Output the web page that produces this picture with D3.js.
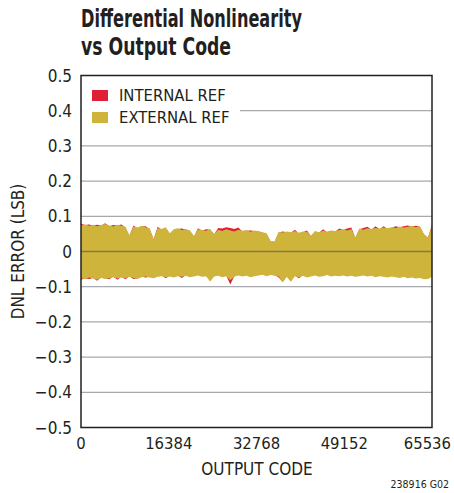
<!DOCTYPE html>
<html><head><meta charset="utf-8">
<script src="https://cdn.jsdelivr.net/npm/d3@7/dist/d3.min.js"></script>
<style>
html,body{margin:0;padding:0;background:#fff;}
svg{display:block;}
text{font-family:"Liberation Sans Narrow","DejaVu Sans Condensed","Roboto Condensed",sans-serif;fill:#231f20;}
</style></head>
<body><svg id="chart" width="454" height="493"></svg>
<script>
// ---- data (binned envelope, LSB) ----
const codeMax = 65536;
const xTicks = [0, 16384, 32768, 49152, 65536];
const yTicks = [0.5, 0.4, 0.3, 0.2, 0.1, 0, -0.1, -0.2, -0.3, -0.4, -0.5];
const seriesNames = ["INTERNAL REF", "EXTERNAL REF"];
const extUpper = [.074,.077,.073,.076,.072,.075,.078,.074,.071,.076,.073,.070,
  .046,.071,.068,.073,.069,.066,
  .036,.067,.064,.069,.052,
  .063,.066,.061,.064,.060,.044,.063,.061,
  .059,.064,.050,.062,.058,.063,.060,.057,.062,.059,.061,.056,.060,.058,
  .055,.052,.030,.029,
  .056,.054,.057,.055,.058,.053,.057,.056,.045,.058,.055,.059,.057,.060,.058,.061,
  .063,.060,.064,.040,.065,.062,.066,.064,.067,.065,.068,.066,.069,.067,.071,.068,.070,.073,.069,.072,.050,.040,.074];
const intUpper = [.079,.075,.077,.074,.076,.073,.080,.072,.075,.074,.077,.068,
  .044,.074,.066,.071,.072,.064,
  .034,.070,.062,.067,.050,
  .061,.064,.065,.062,.058,.042,.066,.059,
  .063,.062,.048,.067,.065,.069,.067,.064,.068,.057,.059,.060,.058,.056,
  .053,.050,.028,.027,
  .054,.057,.055,.053,.062,.051,.055,.060,.043,.056,.053,.063,.055,.058,.056,.065,
  .061,.065,.068,.038,.063,.067,.070,.062,.072,.063,.072,.064,.067,.072,.069,.072,.074,.071,.073,.070,.048,.038,.077];
const extLower = [-.076,-.079,-.074,-.077,-.080,-.075,-.078,-.076,-.073,-.077,-.074,-.076,
  -.072,-.075,-.078,-.073,-.071,-.074,
  -.076,-.072,-.070,-.073,-.071,
  -.074,-.070,-.072,-.069,-.073,-.071,-.068,-.072,
  -.070,-.085,-.071,-.069,-.073,-.070,-.082,-.072,-.068,-.071,-.069,-.073,-.070,-.068,
  -.066,-.070,-.067,-.069,
  -.071,-.088,-.072,-.086,-.070,-.073,-.069,-.074,-.071,-.068,-.072,-.070,-.067,-.071,-.069,-.070,
  -.068,-.071,-.069,-.072,-.070,-.068,-.071,-.069,-.073,-.070,-.072,-.074,-.071,-.073,-.075,-.072,-.076,-.074,-.077,-.075,-.079,-.078,-.072];
const intLower = [-.080,-.077,-.078,-.075,-.083,-.073,-.076,-.079,-.071,-.080,-.072,-.079,
  -.070,-.078,-.076,-.071,-.074,-.072,
  -.074,-.070,-.068,-.076,-.069,
  -.072,-.068,-.075,-.067,-.071,-.069,-.066,-.070,
  -.068,-.083,-.069,-.067,-.071,-.068,-.094,-.070,-.066,-.069,-.067,-.071,-.068,-.066,
  -.064,-.068,-.065,-.067,
  -.074,-.086,-.070,-.084,-.068,-.076,-.067,-.072,-.069,-.066,-.070,-.068,-.065,-.069,-.067,-.068,
  -.066,-.069,-.067,-.070,-.068,-.066,-.069,-.067,-.071,-.068,-.070,-.072,-.069,-.071,-.073,-.070,-.074,-.072,-.075,-.073,-.077,-.076,-.070];

const colInt = "#e01f36", colExt = "#cfb43c";

// ---- layout ----
const svg = d3.select("#chart");
const L = 81, R = 432, T = 75.5, B = 427.5;
const x = d3.scaleLinear().domain([0, codeMax]).range([L, R]);
const y = d3.scaleLinear().domain([-0.5, 0.5]).range([B, T]);

// title
svg.append("text").attr("x", 81).attr("y", 27).attr("font-size", 25).attr("font-weight", "bold")
  .attr("textLength", 221).attr("lengthAdjust", "spacingAndGlyphs").text("Differential Nonlinearity");
svg.append("text").attr("x", 81).attr("y", 55).attr("font-size", 25).attr("font-weight", "bold")
  .attr("textLength", 150).attr("lengthAdjust", "spacingAndGlyphs").text("vs Output Code");

// gridlines
svg.append("g").selectAll("line").data(yTicks.filter(v => v !== 0.5 && v !== -0.5)).join("line")
  .attr("x1", L).attr("x2", R).attr("y1", d => y(d)).attr("y2", d => y(d))
  .attr("stroke", "#a7a9ac").attr("stroke-width", 1.3);

// data as envelope areas (each bin is one point, spanning the full code range)
const n = extUpper.length;
const bins = d3.range(n);
const xc = i => x(i * codeMax / (n - 1));
const areaFor = (up, lo) => d3.area().x(xc).y0(i => y(lo[i])).y1(i => y(up[i])).curve(d3.curveLinear);
svg.append("path").datum(bins).attr("d", areaFor(intUpper, intLower)).attr("fill", colInt);
svg.append("path").datum(bins).attr("d", areaFor(extUpper, extLower)).attr("fill", colExt);

// zero line
svg.append("line").attr("x1", L).attr("x2", R).attr("y1", y(0)).attr("y2", y(0))
  .attr("stroke", "#857a45").attr("stroke-width", 1.5);

// legend
svg.append("rect").attr("x", L + 1).attr("y", 82).attr("width", 158).attr("height", 44).attr("fill", "#fff");
const lg = svg.append("g");
seriesNames.forEach((s, k) => {
  lg.append("rect").attr("x", 92).attr("y", 90 + k * 22).attr("width", 16).attr("height", 11)
    .attr("fill", k === 0 ? colInt : colExt);
  lg.append("text").attr("x", 119).attr("y", 101 + k * 22).attr("font-size", 16.5).text(s);
});

// frame
svg.append("rect").attr("x", L).attr("y", T).attr("width", R - L).attr("height", B - T)
  .attr("fill", "none").attr("stroke", "#231f20").attr("stroke-width", 1.5);

// axes labels
const fmtY = d => d === 0 ? "0" : d3.format(".1f")(d).replace("-", "\u2212");
svg.append("g").selectAll("text").data(yTicks).join("text")
  .attr("x", 72).attr("y", d => y(d) + 6).attr("text-anchor", "end").attr("font-size", 17).text(fmtY);
svg.append("g").selectAll("text").data(xTicks).join("text")
  .attr("x", d => d === codeMax ? 451 : x(d)).attr("y", 449)
  .attr("text-anchor", d => d === codeMax ? "end" : "middle").attr("font-size", 16.5).text(d => d);
svg.append("text").attr("x", 257).attr("y", 475).attr("text-anchor", "middle").attr("font-size", 17).text("OUTPUT CODE");
svg.append("text").attr("transform", "translate(24," + y(0) + ") rotate(-90)").attr("text-anchor", "middle")
  .attr("font-size", 17).text("DNL ERROR (LSB)");
svg.append("text").attr("x", 449).attr("y", 488).attr("text-anchor", "end").attr("font-size", 10.5).text("238916 G02");
</script></body></html>
